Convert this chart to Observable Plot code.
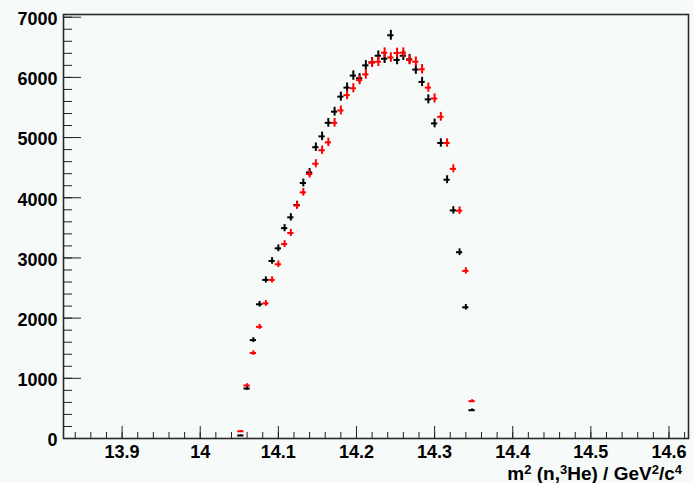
<!DOCTYPE html>
<html>
<head>
<meta charset="utf-8">
<script src="https://cdn.jsdelivr.net/npm/d3@7"></script>
<script src="https://cdn.jsdelivr.net/npm/@observablehq/plot@0.6"></script>
<style>
  html, body { margin: 0; padding: 0; background: #f6faf8; overflow: hidden; }
  #chart { width: 694px; height: 483px; }
</style>
</head>
<body>
<div id="chart"></div>
<script>
// Missing-mass squared spectrum, two samples (counts per 0.008 GeV^2/c^4 bin)
const binWidth = 0.008;
const binCenter = [
  14.052, 14.060, 14.068, 14.076, 14.084, 14.092, 14.100, 14.108, 14.116, 14.124,
  14.132, 14.140, 14.148, 14.156, 14.164, 14.172, 14.180, 14.188, 14.196, 14.204,
  14.212, 14.220, 14.228, 14.236, 14.244, 14.252, 14.260, 14.268, 14.276, 14.284,
  14.292, 14.300, 14.308, 14.316, 14.324, 14.332, 14.340, 14.348
];
const blackCounts = [
  50, 830, 1635, 2230, 2635, 2950, 3160, 3495, 3675, 3880,
  4245, 4420, 4840, 5020, 5245, 5430, 5680, 5830, 6030, 5985,
  6200, 6250, 6360, 6310, 6700, 6290, 6360, 6300, 6130, 5925,
  5635, 5235, 4910, 4300, 3790, 3095, 2180, 470
];
const redCounts = [
  120, 880, 1420, 1855, 2245, 2635, 2895, 3230, 3415, 3870,
  4090, 4395, 4565, 4790, 4920, 5245, 5450, 5705, 5820, 5955,
  6050, 6245, 6260, 6410, 6330, 6405, 6410, 6290, 6260, 6135,
  5830, 5650, 5345, 4910, 4480, 3785, 2785, 620
];

// Axis ticks and labels
const xMajor = [13.9, 14.0, 14.1, 14.2, 14.3, 14.4, 14.5, 14.6];
const xLabels = ["13.9", "14", "14.1", "14.2", "14.3", "14.4", "14.5", "14.6"];
const yMajor = [0, 1000, 2000, 3000, 4000, 5000, 6000, 7000];
const yLabels = ["0", "1000", "2000", "3000", "4000", "5000", "6000", "7000"];
const xMinor = d3.range(13.84, 14.625, 0.02);
const yMinor = d3.range(0, 7045, 200);

const W = 694, H = 483;
const mL = 63, mR = 6, mT = 14, mB = 45;
const frameW = W - mL - mR, frameH = H - mT - mB;

const rows = [
  ...binCenter.map((x, i) => ({x, n: blackCounts[i], s: "black"})),
  ...binCenter.map((x, i) => ({x, n: redCounts[i], s: "red"}))
];

// each bin drawn as a cross: bin width horizontally, sqrt(N) error vertically
const crosses = (s, color) => {
  const d = rows.filter(r => r.s === s);
  return [
    Plot.ruleY(d, {y: "n", x1: r => r.x - binWidth / 2, x2: r => r.x + binWidth / 2,
                   stroke: color, strokeWidth: 2}),
    Plot.ruleX(d, {x: "x", y1: r => r.n - Math.sqrt(r.n), y2: r => r.n + Math.sqrt(r.n),
                   stroke: color, strokeWidth: 2})
  ];
};

const chart = Plot.plot({
  width: W, height: H,
  marginLeft: mL, marginRight: mR, marginTop: mT, marginBottom: mB,
  style: {
    background: "#f6faf8",
    color: "#000",
    fontFamily: "'Liberation Sans', Arial, Helvetica, sans-serif",
    fontSize: "18px",
    fontWeight: "bold"
  },
  x: {domain: [13.825, 14.625]},
  y: {domain: [0, 7045]},
  marks: [
    // inward ticks on the bottom and left axes
    Plot.tickX(xMinor, {x: d => d, insetTop: frameH - 6, stroke: "#222", strokeWidth: 1}),
    Plot.tickX(xMajor, {x: d => d, insetTop: frameH - 12, stroke: "#222", strokeWidth: 1}),
    Plot.tickY(yMinor, {y: d => d, insetRight: frameW - 9, stroke: "#222", strokeWidth: 1}),
    Plot.tickY(yMajor, {y: d => d, insetRight: frameW - 18, stroke: "#222", strokeWidth: 1}),
    Plot.axisX({ticks: xMajor, tickSize: 0, tickPadding: 7, label: null,
                tickFormat: d => xLabels[xMajor.indexOf(d)]}),
    Plot.axisY({ticks: yMajor, tickSize: 0, tickPadding: 6, label: null, dy: 2,
                tickFormat: d => yLabels[yMajor.indexOf(d)]}),
    ...crosses("black", "#000"),
    ...crosses("red", "#ff0000"),
    Plot.frame({stroke: "#2a2a2a", strokeWidth: 1.6})
  ]
});

// x-axis title with super-scripts
const title = d3.select(chart).append("text")
  .attr("x", W - 12).attr("y", H - 3)
  .attr("text-anchor", "end")
  .attr("font-size", 19)
  .attr("font-weight", "bold")
  .attr("fill", "#000");
const parts = [
  ["m", false], ["2", true], [" (n,", false], ["3", true], ["He) / GeV", false],
  ["2", true], ["/c", false], ["4", true]
];
parts.forEach(([t, sup]) => {
  const ts = title.append("tspan").text(t);
  if (sup) ts.attr("font-size", 13).attr("baseline-shift", "45%");
});

document.getElementById("chart").appendChild(chart);
</script>
</body>
</html>
